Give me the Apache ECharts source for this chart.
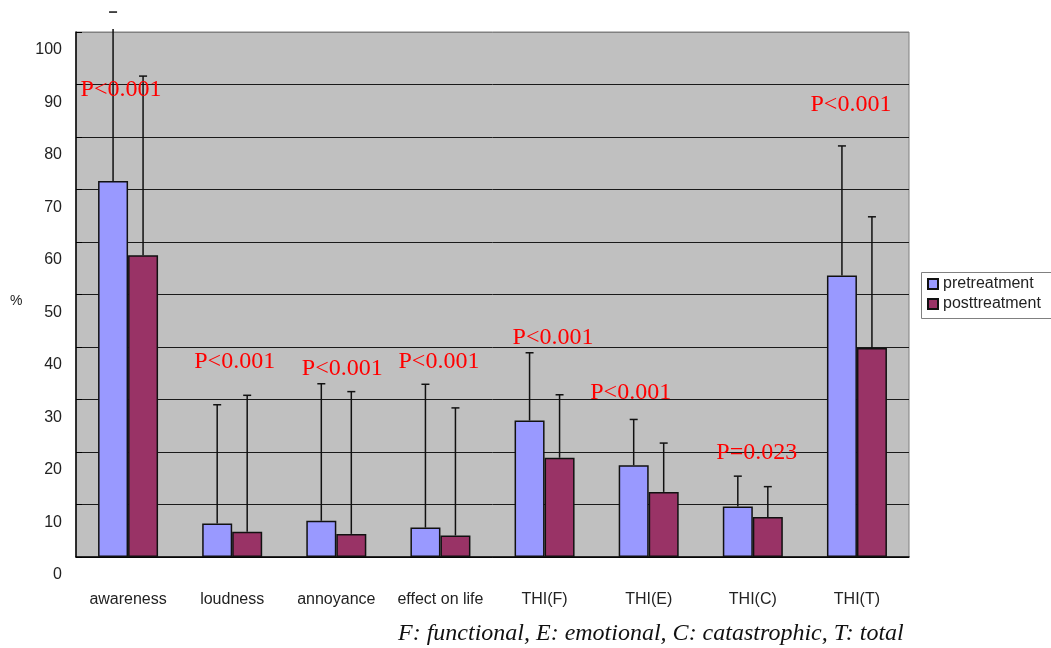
<!DOCTYPE html>
<html>
<head>
<meta charset="utf-8">
<script src="https://cdn.jsdelivr.net/npm/echarts@6/dist/echarts.min.js"></script>
<style>html,body{margin:0;padding:0;background:#fff}#c{width:1051px;height:648px}</style>
</head>
<body>
<div id="c"></div>
<script>
const categories = ['awareness','loudness','annoyance','effect on life','THI(F)','THI(E)','THI(C)','THI(T)'];
const preMean  = [71.6, 6.4, 6.9, 5.6, 26.0, 17.5, 9.6, 53.6];
const postMean = [57.5, 4.8, 4.4, 4.1, 18.9, 12.4, 7.6, 39.8];
const preSD    = [32.2, 22.6, 26.1, 27.3, 12.9, 8.7, 5.8, 24.7];
const postSD   = [34.1, 26.0, 27.1, 24.3, 12.0, 9.3, 5.8, 25.0];
const pValues  = ['P<0.001','P<0.001','P<0.001','P<0.001','P<0.001','P<0.001','P=0.023','P<0.001'];
const yTicks   = [0,10,20,30,40,50,60,70,80,90,100];

// annotation placement (layout only)
const pLabelY  = [89.0, 37.2, 35.9, 37.2, 41.7, 31.3, 19.9, 86.1];
const pLabelDx = [-7, 2.5, 6, -1.5, 8.5, -18, 4, -6];
const BAR_W = 30;

const errData = [];
categories.forEach((c,i)=>{
  errData.push([i, preMean[i], preSD[i], -1]);
  errData.push([i, postMean[i], postSD[i], 1]);
});
const pData = categories.map((c,i)=>[i, pLabelY[i], pLabelDx[i], pValues[i]]);

const chart = echarts.init(document.getElementById('c'), null, {renderer:'canvas'});
chart.setOption({
  animation:false,
  backgroundColor:'#ffffff',
  grid:{left:76, top:32, width:833, height:525, show:true, backgroundColor:'#c0c0c0', borderColor:'#808080', borderWidth:1},
  legend:{
    orient:'vertical', left:921, top:272, z:10,
    itemWidth:10, itemHeight:10, itemGap:4,
    padding:[4,10,4,6],
    borderWidth:0,
    textStyle:{fontFamily:'Liberation Sans', fontSize:16, color:'#222'},
    data:[{name:'pretreatment', icon:'rect'},{name:'posttreatment', icon:'rect'}]
  },
  xAxis:{
    type:'category', data:categories,
    axisLine:{lineStyle:{color:'#000', width:1.5}},
    axisTick:{inside:true, length:4, lineStyle:{color:'#000'}},
    axisLabel:{margin:35, fontFamily:'Liberation Sans', fontSize:16, color:'#222', interval:0}
  },
  yAxis:{
    type:'value', min:0, max:100, interval:10,
    axisLine:{show:true, lineStyle:{color:'#000', width:1.5}},
    axisTick:{show:true, inside:true, length:6, lineStyle:{color:'#000'}},
    axisLabel:{margin:14, fontFamily:'Liberation Sans', fontSize:16, color:'#222', verticalAlign:'top', padding:[10,0,0,0]},
    splitLine:{show:true, lineStyle:{color:['#1a1a1a','#1a1a1a','#1a1a1a','#1a1a1a','#1a1a1a','#1a1a1a','#1a1a1a','#1a1a1a','#1a1a1a','#1a1a1a','#808080'], width:1}}
  },
  series:[
    {name:'pretreatment', type:'bar', data:preMean, barWidth:BAR_W, barGap:'0%',
     itemStyle:{color:'#9999ff', borderColor:'#111', borderWidth:1.5}},
    {name:'posttreatment', type:'bar', data:postMean, barWidth:BAR_W, barGap:'0%',
     itemStyle:{color:'#993366', borderColor:'#111', borderWidth:1.5}},
    {type:'custom', data:errData, clip:false, z:5,
     encode:{x:0, y:1},
     renderItem:function(params, api){
       const i = api.value(0), m = api.value(1), sd = api.value(2), side = api.value(3);
       const base = api.coord([i, m]);
       const top = api.coord([i, m+sd]);
       const x = base[0] + side*BAR_W/2;
       const lineTop = Math.max(top[1], params.coordSys.y - 3);
       const st = {stroke:'#111', lineWidth:1.5};
       return {type:'group', children:[
         {type:'line', shape:{x1:x, y1:base[1], x2:x, y2:lineTop}, style:st},
         {type:'line', shape:{x1:x-4, y1:top[1], x2:x+4, y2:top[1]}, style:st}
       ]};
     }},
    {type:'custom', data:pData, clip:false, z:6,
     encode:{x:0, y:1},
     renderItem:function(params, api){
       const p = api.coord([api.value(0), api.value(1)]);
       return {type:'text', x:p[0] + api.value(2), y:p[1],
         style:{text:pValues[params.dataIndex], fill:'#ff0000', font:'24px "Liberation Serif"', align:'center', verticalAlign:'middle'}};
     }}
  ],
  graphic:[
    {type:'rect', left:921, top:272, z:1, shape:{width:200, height:46}, style:{fill:'#ffffff', stroke:'#808080', lineWidth:1}},
    {type:'text', left:10, top:294, style:{text:'%', font:'14px "Liberation Sans"', fill:'#222'}},
    {type:'text', left:398, top:622, style:{text:'F: functional, E: emotional, C: catastrophic, T: total', font:'italic 24px "Liberation Serif"', fill:'#111'}}
  ]
});
</script>
</body>
</html>
